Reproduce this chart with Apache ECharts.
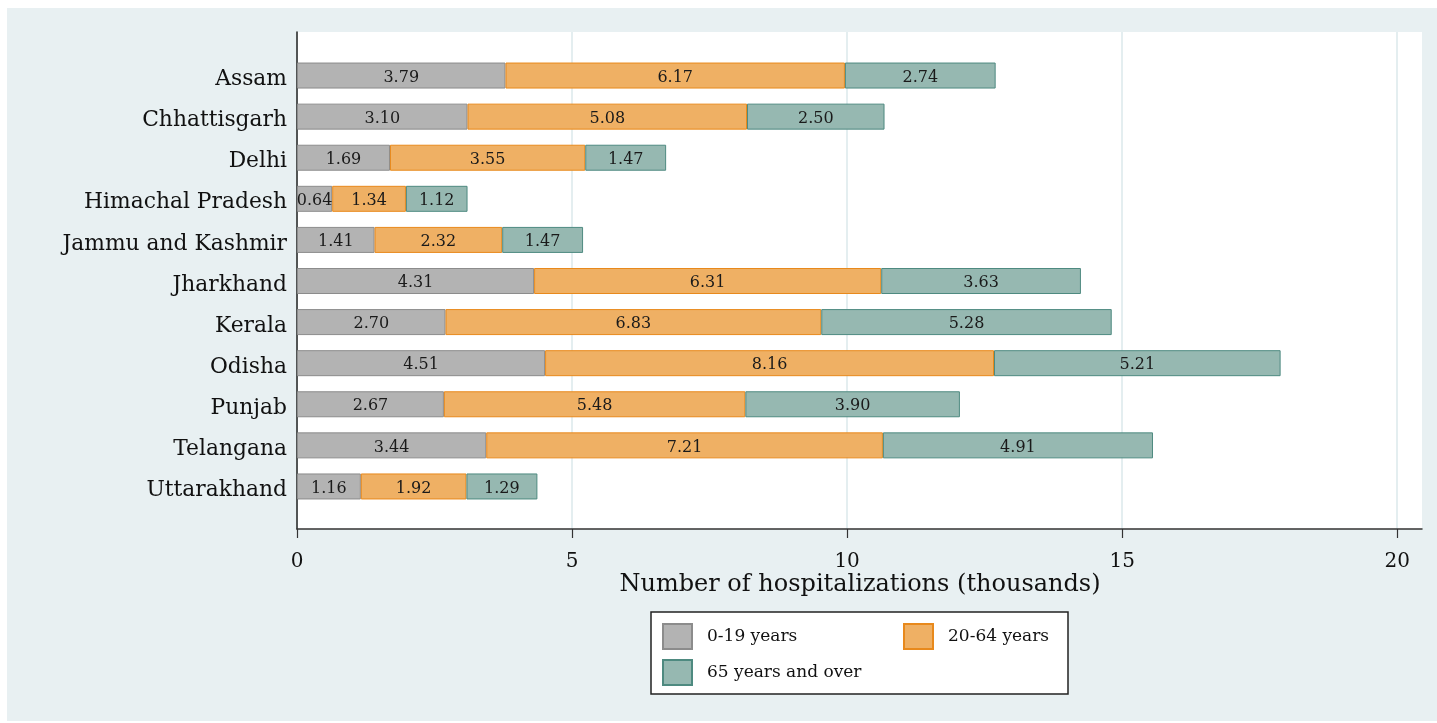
<!DOCTYPE html>
<html>
<head>
<meta charset="utf-8">
<script src="https://cdn.jsdelivr.net/npm/echarts@6/dist/echarts.min.js"></script>
<style>
html,body{margin:0;padding:0;background:#fff;}
#bg{position:absolute;left:7px;top:8px;width:1430px;height:713px;background:#e8f0f2;}
#chart{position:absolute;left:0;top:0;width:1437px;height:723px;}
</style>
</head>
<body>
<div id="bg"></div>
<div id="chart"></div>
<script>
const states = ['Assam','Chhattisgarh','Delhi','Himachal Pradesh','Jammu and Kashmir','Jharkhand','Kerala','Odisha','Punjab','Telangana','Uttarakhand'];
const age0_19 = [3.79,3.10,1.69,0.64,1.41,4.31,2.70,4.51,2.67,3.44,1.16];
const age20_64 = [6.17,5.08,3.55,1.34,2.32,6.31,6.83,8.16,5.48,7.21,1.92];
const age65plus = [2.74,2.50,1.47,1.12,1.47,3.63,5.28,5.21,3.90,4.91,1.29];
const xTicks = [0,5,10,15,20];
const seriesNames = ['0-19 years','20-64 years','65 years and over'];

const FONT = 'DejaVu Serif';
const fills = ['#b3b3b3','#efb064','#96b8b1'];
const borders = ['#8c8c8c','#e8891c','#4e8a80'];

const chart = echarts.init(document.getElementById('chart'), null, {renderer:'canvas'});
const plotL = 297, plotT = 32, plotW = 1125, plotH = 497;
const xMax = 20.45;

function mkSeries(i, data){
  return {
    type:'bar', name:seriesNames[i], stack:'total', xAxisIndex:1, yAxisIndex:1,
    data:data, barWidth:26,
    itemStyle:{color:fills[i], borderColor:borders[i], borderWidth:1},
    label:{show:true, position:'inside', offset:[0,2], formatter:p=>p.value.toFixed(2), color:'#1a1a1a', fontFamily:FONT, fontSize:16},
    emphasis:{disabled:true}
  };
}

const legendText = {fontFamily:FONT, fontSize:17, color:'#111', padding:[0,0,0,10]};
const option = {
  backgroundColor:'transparent',
  animation:false,
  grid:[
    {left:plotL, top:plotT, width:plotW, height:plotH, show:true, backgroundColor:'#ffffff', borderWidth:0, containLabel:false},
    {left:plotL, top:55, width:plotW, height:452, containLabel:false}
  ],
  xAxis:[
    {type:'value', gridIndex:0, min:0, max:xMax, interval:5,
     axisLine:{show:true, lineStyle:{color:'#333', width:1.5}},
     axisTick:{show:true, length:9, customValues:xTicks, lineStyle:{color:'#333', width:1.2}},
     axisLabel:{customValues:xTicks, formatter:v=>String(v), fontFamily:FONT, fontSize:20, color:'#111', margin:23},
     splitLine:{show:true, lineStyle:{color:'#e4eef0', width:2}}
    },
    {type:'value', gridIndex:1, min:0, max:xMax, show:false}
  ],
  yAxis:[
    {type:'value', gridIndex:0, min:0, max:1, axisLine:{show:true, lineStyle:{color:'#222', width:1.5}}, axisTick:{show:false}, axisLabel:{show:false}, splitLine:{show:false}},
    {type:'category', gridIndex:1, data:states, inverse:true,
     axisLine:{show:false}, axisTick:{show:false},
     axisLabel:{margin:10, formatter:v=>'{s|' + v + '}',
       rich:{s:{fontFamily:FONT, fontSize:21.8, color:'#111', padding:[8,0,0,0]}}}}
  ],
  legend:[
    {data:[seriesNames[0]], left:662, top:623, padding:0, itemWidth:29, itemHeight:25, icon:'rect', selectedMode:false, textStyle:legendText},
    {data:[seriesNames[1]], left:903, top:623, padding:0, itemWidth:29, itemHeight:25, icon:'rect', selectedMode:false, textStyle:legendText},
    {data:[seriesNames[2]], left:662, top:659, padding:0, itemWidth:29, itemHeight:25, icon:'rect', selectedMode:false, textStyle:legendText}
  ],
  graphic:[
    {type:'rect', shape:{x:651, y:612, width:417, height:82}, style:{fill:'#fff', stroke:'#222', lineWidth:1.5}, z:-1, silent:true},
    {type:'text', x:860, y:585, style:{text:'Number of hospitalizations (thousands)', font:'24px "DejaVu Serif"', fill:'#111', textAlign:'center', textVerticalAlign:'middle'}, silent:true}
  ],
  series:[mkSeries(0, age0_19), mkSeries(1, age20_64), mkSeries(2, age65plus)]
};
chart.setOption(option);
</script>
</body>
</html>
